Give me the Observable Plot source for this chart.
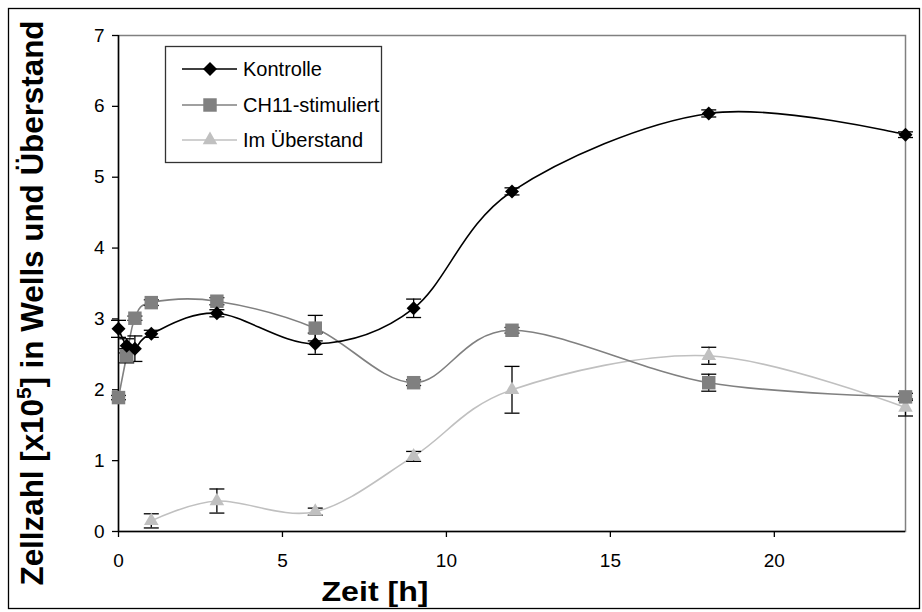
<!DOCTYPE html>
<html><head><meta charset="utf-8">
<script src="https://cdn.jsdelivr.net/npm/d3@7"></script>
<script src="https://cdn.jsdelivr.net/npm/@observablehq/plot@0.6"></script>
<style>
body{margin:0;background:#fff;}
#chart{position:relative;width:922px;height:612px;}
</style></head><body><div id="chart"></div>
<script>
// ---- data ----
const hours = [0, 0.25, 0.5, 1, 3, 6, 9, 12, 18, 24];
const kontrolle    = [2.86, 2.62, 2.58, 2.79, 3.08, 2.65, 3.15, 4.80, 5.90, 5.60];
const kontrolleErr = [0.12, 0.10, 0.18, 0.05, 0.05, 0.15, 0.13, 0.05, 0.05, 0.04];
const ch11         = [1.89, 2.48, 3.01, 3.23, 3.25, 2.87, 2.10, 2.84, 2.10, 1.90];
const ch11Err      = [0.03, 0.10, 0.03, 0.04, 0.05, 0.18, 0.04, 0.04, 0.12, 0.05];
const ueberHours   = [1, 3, 6, 9, 12, 18, 24];
const ueberstand   = [0.15, 0.43, 0.28, 1.06, 2.00, 2.48, 1.75];
const ueberErr     = [0.10, 0.17, 0.05, 0.07, 0.33, 0.12, 0.12];
const seriesNames  = ["Kontrolle", "CH11-stimuliert", "Im Überstand"];
const xTicks = [0, 5, 10, 15, 20];
const yTicks = [0, 1, 2, 3, 4, 5, 6, 7];
const xTitle = "Zeit [h]";

const rows = (xs, vs, es) => xs.map((h, i) => ({h, v: vs[i], lo: vs[i] - es[i], hi: vs[i] + es[i]}));
const kRows = rows(hours, kontrolle, kontrolleErr);
const cRows = rows(hours, ch11, ch11Err);
const uRows = rows(ueberHours, ueberstand, ueberErr);

const capSym = {draw(ctx){ ctx.moveTo(-7.5, 0); ctx.lineTo(7.5, 0); }};
const font = "'Liberation Sans', Arial, sans-serif";
const colors = ["#000000", "#808080", "#c0c0c0"];

function errMarks(data) {
  return [
    Plot.ruleX(data, {x: "h", y1: "lo", y2: "hi", stroke: "#000", strokeWidth: 1.3}),
    Plot.dot(data, {x: "h", y: "lo", symbol: capSym, r: 5, stroke: "#000", strokeWidth: 1.3, fill: "none"}),
    Plot.dot(data, {x: "h", y: "hi", symbol: capSym, r: 5, stroke: "#000", strokeWidth: 1.3, fill: "none"})
  ];
}

const plot = Plot.plot({
  width: 922, height: 612,
  marginLeft: 118, marginRight: 17, marginTop: 35, marginBottom: 81,
  style: {fontFamily: font, fontSize: "19px", color: "#000", background: "#fff", overflow: "visible"},
  x: {domain: [0, 24]},
  y: {domain: [0, 7]},
  marks: [
    Plot.frame({stroke: "#808080", strokeWidth: 1.5}),
    Plot.axisX({ticks: xTicks, tickSize: 6, tickPadding: 16, label: null, fontSize: 19, strokeWidth: 1.3, tickFormat: d3.format("d")}),
    Plot.axisY({ticks: yTicks, tickSize: 6, tickPadding: 8, label: null, fontSize: 19, strokeWidth: 1.3, tickFormat: d3.format("d")}),
    Plot.ruleX([0], {stroke: "#000", strokeWidth: 1.5}),
    Plot.ruleY([0], {stroke: "#000", strokeWidth: 1.5}),
    Plot.line(uRows, {x: "h", y: "v", stroke: colors[2], strokeWidth: 1.6, curve: "cardinal"}),
    Plot.line(cRows, {x: "h", y: "v", stroke: colors[1], strokeWidth: 1.6, curve: "cardinal"}),
    Plot.line(kRows, {x: "h", y: "v", stroke: colors[0], strokeWidth: 1.6, curve: "cardinal"}),
    ...errMarks(uRows),
    ...errMarks(cRows),
    ...errMarks(kRows),
    Plot.dot(uRows, {x: "h", y: "v", symbol: "triangle", r: 5.4, fill: colors[2], stroke: "none"}),
    Plot.dot(cRows, {x: "h", y: "v", symbol: "square", r: 7.6, fill: colors[1], stroke: "none"}),
    Plot.dot(kRows, {x: "h", y: "v", symbol: "diamond2", r: 6.3, fill: colors[0], stroke: "none"})
  ]
});

const svg = d3.select(plot);
// outer border
svg.append("rect").attr("x", 8.5).attr("y", 8.5).attr("width", 911).attr("height", 600)
  .attr("fill", "none").attr("stroke", "#000").attr("stroke-width", 1.3);

// axis titles
svg.append("text").attr("x", 375).attr("y", 601).attr("text-anchor", "middle")
  .attr("font-family", font).attr("font-weight", "bold").attr("font-size", 28)
  .attr("textLength", 107).attr("lengthAdjust", "spacingAndGlyphs").text(xTitle);

const yt = svg.append("text").attr("transform", "translate(43,303) rotate(-90)")
  .attr("text-anchor", "middle").attr("font-family", font).attr("font-weight", "bold")
  .attr("font-size", 32).attr("textLength", 565).attr("lengthAdjust", "spacingAndGlyphs");
yt.append("tspan").text("Zellzahl [x10");
yt.append("tspan").attr("font-size", 21).attr("dy", -12).text("5");
yt.append("tspan").attr("dy", 12).text("] in Wells und Überstand");

// legend
const lg = svg.append("g").attr("text-anchor", "start");
lg.append("rect").attr("x", 165.5).attr("y", 46.5).attr("width", 216).attr("height", 116)
  .attr("fill", "#fff").attr("stroke", "#333").attr("stroke-width", 1.3);
const syms = [d3.symbolDiamond2, d3.symbolSquare, d3.symbolTriangle];
const symSizes = [Math.PI * 6.3 * 6.3, Math.PI * 7.6 * 7.6, Math.PI * 5.4 * 5.4];
const rowY = [69, 105, 140];
seriesNames.forEach((name, i) => {
  const y = rowY[i];
  lg.append("line").attr("x1", 182).attr("x2", 237).attr("y1", y).attr("y2", y)
    .attr("stroke", colors[i]).attr("stroke-width", 1.6);
  lg.append("path").attr("d", d3.symbol(syms[i], symSizes[i])())
    .attr("transform", `translate(210,${y})`).attr("fill", colors[i]);
  lg.append("text").attr("x", 243).attr("y", y).attr("dy", "0.35em").attr("text-anchor", "start")
    .attr("font-family", font).attr("font-size", 20).text(name);
});

document.getElementById("chart").appendChild(plot);
</script>
</body></html>
